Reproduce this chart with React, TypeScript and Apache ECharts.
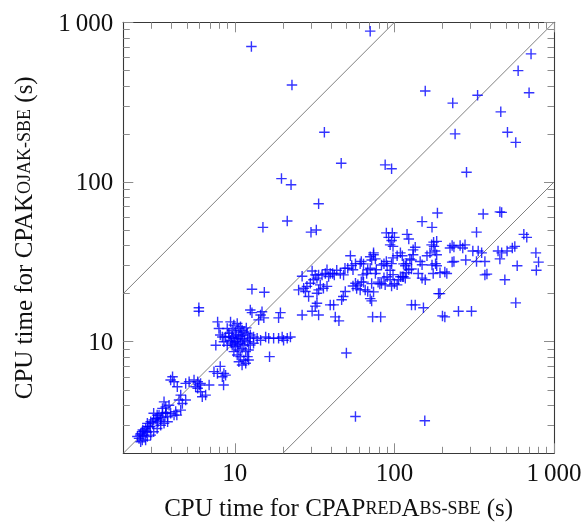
import React, { useEffect, useRef } from "react";
import * as echarts from "echarts";

// ---- axis ticks ----
const majorTicks = [10, 100, 1000];
const minorTicks = [3, 4, 5, 6, 7, 8, 9, 20, 30, 40, 50, 60, 70, 80, 90, 200, 300, 400, 500, 600, 700, 800, 900];
const axisMin = 2;
const axisMax = 1000;

// ---- reference diagonals (y = x, y = 10x, y = x/10) ----
const diagonalEqual = [[2, 2], [1000, 1000]];
const diagonalTenSlower = [[2, 20], [100, 1000]];
const diagonalTenFaster = [[20, 2], [1000, 100]];

// ---- scatter data: [CPAPredAbs-sbe time, CPAKojak-sbe time] ----
const sparsePoints = [
  [12.7, 705], [22.8, 405], [36.4, 205], [46.4, 131], [19.6, 105], [22.5, 96], [33.5, 73], [21.3, 57], [15.0, 52], [30, 48.5], [32.4, 50],
  [70.5, 880], [718, 634], [596, 498], [698, 362], [156, 371], [232, 312], [332, 349], [464, 275], [240, 200], [511, 205], [576, 177],
  [87.5, 128], [96, 121], [283, 115], [186, 64], [149, 56.5], [172, 52], [360, 63], [458, 65], [470, 64.5], [327, 48.5], [647, 47], [675, 45],
  [50, 8.5], [57, 3.4], [155, 3.2],
];

const bandRight = [
  [100, 45], [120, 47], [123, 44], [176, 42], [184, 42.5], [171, 40.4], [177, 39.5], [135, 39],
  [230, 40], [223, 38.6], [236, 39.2], [268, 38.6], [277, 40.4], [258, 40],
  [310, 37], [335, 37], [352, 36], [369, 31.8], [446, 37], [470, 36], [458, 33], [508, 37], [548, 38.6], [568, 39.5],
  [588, 29.9], [492, 24.4], [770, 36], [800, 31.5], [775, 28], [576, 17.5], [369, 26.2], [380, 26.5], [327, 31.8],
  [230, 31.5], [236, 31.8], [280, 32.5], [304, 15.5], [252, 15.5], [207, 14.3], [200, 14.5], [193, 20], [189, 20],
  [152, 16.3], [135, 17], [128, 17], [213, 26.7], [207, 27.3], [175, 26.7], [184, 29.9], [181, 30.8], [167, 36],
  [180, 37], [184, 35], [160, 34.5], [145, 31.8], [149, 30.3], [141, 26.7], [156, 24.4], [131, 37.6], [131, 35],
  [125, 33], [128, 32.5], [119, 30.8], [117, 29.9], [123, 28.2], [114, 25.5], [117, 25],
  [109, 36], [112, 34.5], [104, 34.5], [106, 24.4], [112, 25.5], [104, 22.7],
  [114, 30.7], [128, 28.5], [172, 30.2], [193, 27], [109, 25.5], [119, 27], [149, 25],
];

const bandMiddle = [
  [89, 48], [97, 48], [92, 45], [96, 43], [94, 40.4], [98, 39.5],
  [98, 33.5], [96, 30.8], [90, 29.9], [89, 31.8], [86, 30.8],
  [94, 28], [90, 25.5], [94, 24.4], [87.5, 22.7], [96, 22.3],
  [81, 23], [76, 26.7], [77, 28.2], [70.5, 28.8], [72, 32.5], [74, 35], [74, 36], [68, 28.2], [67, 26.7], [63.5, 26.2],
  [62, 23.7], [59, 22.7], [57, 23.2], [55, 22.3], [58, 21.5], [61, 21.1], [65.6, 21.1], [68, 20.6], [70.5, 18.6], [72, 18],
  [73, 14.3], [82, 14.3],
  [53, 34.5], [54, 30], [51, 28.8], [55, 28.2], [57, 30.8], [62, 31.8], [61, 30.8],
  [49, 28.8], [48, 26.2], [45.8, 26.7], [43.5, 28], [41, 26.7], [42, 26.2],
  [49.2, 20.6], [47.8, 19.2], [46.7, 18.3], [41.6, 17], [42.6, 14.3], [44.9, 13.5],
  [70.5, 34], [76, 33], [64, 30.7], [83, 30.2], [86, 25.1], [98, 26.3], [64, 23.6], [72, 23.1], [79, 23.6], [83, 23.1], [100, 23.1], [74, 20.5],
];

const bandLeft = [
  [26.4, 25.7], [30.5, 27.7], [31.9, 26.2], [31.1, 24.4], [29.7, 23.2], [28.3, 22.2], [27.0, 21.6], [25.1, 21.1], [27.7, 20.6],
  [29.0, 19.2], [32.7, 25.0], [33.5, 26.2], [35.2, 26.2], [37.8, 28.2], [36.9, 26.7], [39.6, 26.7], [38.7, 25.6],
  [34.3, 22.7], [33.5, 21.1], [32.7, 20.1], [35.9, 21.6], [37.8, 22.2],
  [32.7, 17.4], [31.9, 16.7], [30.5, 15.5], [33.5, 14.7], [26.4, 14.7], [39.6, 17],
  [19.3, 15.2], [18.8, 14.1], [21.3, 10.5], [20.2, 10.2], [22.3, 10.7], [16.5, 8.06],
  [12.8, 21.3], [15.3, 20.4],
];

const clusterPoints = [
  [5.95, 16.3], [5.95, 15.5],
  [12.5, 15.8], [12.8, 15.2], [14.8, 15.4], [14.5, 14.7], [15.2, 14.1], [14.1, 13.7],
  [7.8, 13.3], [7.95, 12.1], [8.1, 11], [8.35, 10.7], [7.6, 9.5],
  [9.4, 13.3], [9.86, 12.7], [10.35, 13.0], [10.85, 12.4], [9.63, 11.8], [10.1, 11.5], [10.6, 12.1], [11.1, 11.8],
  [8.96, 12.1], [9.17, 11.3], [8.75, 10.7], [8.54, 10.0], [8.96, 9.5], [9.4, 10.2], [9.63, 9.5],
  [11.4, 11.5], [12.0, 11.3], [12.5, 11.0], [13.1, 10.7], [13.8, 10.5], [14.5, 10.2], [15.6, 10.7], [16.3, 10.5],
  [17.5, 10.5], [18.8, 10.5], [19.8, 10.7],
  [9.86, 10.5], [10.35, 10.0], [10.85, 9.77], [11.4, 9.53], [10.1, 9.3], [10.6, 8.87], [11.1, 9.08], [11.7, 8.66],
  [9.86, 8.66], [10.35, 8.25], [12.0, 10], [12.5, 9.53], [13.1, 9.77], [12.2, 8.87],
  [10.85, 8.06], [11.4, 7.68], [10.6, 7.49], [11.1, 7.15], [11.7, 7.32], [12.0, 8.06], [12.2, 7.68],
  [10, 10], [10.5, 10.5], [11, 11], [9.5, 9.8], [10.2, 11], [11.5, 10.2], [12.3, 10.5], [10.8, 10.8], [9.2, 10.8],
  [11.8, 12.2], [10.4, 9.6], [9.6, 10.6], [11.2, 10.4],
  [7.4, 6.49], [7.78, 6.33], [8.54, 6.33], [8.75, 6.17], [8.35, 6.03], [8.1, 7.0], [8.5, 5.35],
];

const lowerPoints = [
  [4.07, 6.03], [4.16, 5.61], [3.96, 5.75], [4.36, 5.22],
  [4.92, 5.48], [5.17, 5.61], [5.55, 5.75], [5.85, 5.61], [5.99, 5.35], [5.68, 5.22], [6.1, 5.48],
  [5.85, 5.11], [6.1, 4.86], [6.56, 4.63], [6.25, 4.52], [6.9, 5.35],
  [4.58, 4.63], [4.47, 4.31], [4.92, 4.31], [4.69, 4.1],
  [3.6, 4.2], [3.69, 3.9], [3.87, 4.0], [3.52, 3.82],
  [3.96, 3.56], [4.16, 3.47], [4.26, 3.65], [3.79, 3.39], [3.69, 3.56], [3.52, 3.56], [3.35, 3.47], [3.26, 3.31],
  [3.43, 3.23], [3.1, 3.23], [2.97, 3.15], [2.83, 3.08], [2.9, 2.93], [2.76, 2.86], [2.63, 2.73], [2.57, 2.65],
  [2.69, 2.6], [2.83, 2.55], [2.97, 2.6], [3.1, 2.73], [3.26, 2.86], [3.43, 3.0], [3.6, 3.08], [3.79, 3.15],
  [2.51, 2.48], [2.63, 2.42], [2.57, 2.36], [2.76, 2.42],
  [2.45, 2.55], [2.55, 2.6], [2.7, 2.75], [2.8, 2.7], [2.95, 2.95], [3.05, 3.1], [3.2, 3.3], [3.3, 3.15],
  [3.45, 3.35], [3.7, 3.6], [2.65, 2.8], [2.85, 2.95],
  [4.33, 3.47], [4.58, 3.73], [3.1, 3.56], [3.26, 3.47],
];

const xTitle = "CPU time for CPAP{sc|RED}A{sc|BS-SBE} (s)";
const yTitle = "CPU time for CPAK{sc|OJAK-SBE} (s)";

const FONT = '"Liberation Serif", "DejaVu Serif", serif';

function formatTick(v: number) {
  return v === 1000 ? "1\u2009000" : String(v);
}

function makeAxis(position: string, tickValues: number[], tickLen: number, showLine: boolean, showLabels: boolean, extra: any = {}) {
  return {
    type: "log",
    logBase: 10,
    min: axisMin,
    max: axisMax,
    position,
    axisLine: { show: showLine, onZero: false, lineStyle: { color: "#383838", width: 1.1 } },
    axisTick: {
      show: true,
      inside: true,
      length: tickLen,
      customValues: tickValues,
      lineStyle: { color: "#8c8c8c", width: 1 },
    },
    axisLabel: {
      show: showLabels,
      customValues: majorTicks,
      formatter: formatTick,
      fontFamily: FONT,
      fontSize: 25,
      color: "#111",
      margin: position === "bottom" ? 7 : 10,
    },
    splitLine: { show: false },
    minorTick: { show: false },
    minorSplitLine: { show: false },
    ...extra,
  };
}

export default function App() {
  const ref = useRef<HTMLDivElement>(null);
  useEffect(() => {
    if (!ref.current) return;
    const chart = echarts.init(ref.current, null, { renderer: "svg" });
    const nameStyle = {
      fontFamily: FONT,
      fontSize: 25,
      color: "#111",
      rich: { sc: { fontFamily: FONT, fontSize: 18, color: "#111" } },
    };
    const allPoints = [...sparsePoints, ...bandRight, ...bandMiddle, ...bandLeft, ...clusterPoints, ...lowerPoints];
    const lineStyle = { color: "#808080", width: 1 };
    chart.setOption({
      animation: false,
      grid: { left: 123.3, right: 30, top: 22.3, bottom: 69.7, containLabel: false, outerBoundsMode: "none" },
      xAxis: [
        makeAxis("bottom", majorTicks, 10, true, true, {
          name: xTitle,
          nameLocation: "middle",
          nameGap: 42,
          nameTextStyle: nameStyle,
        }),
        makeAxis("bottom", minorTicks, 6.5, false, false),
        makeAxis("top", majorTicks, 10, true, false),
        makeAxis("top", minorTicks, 6.5, false, false),
      ],
      yAxis: [
        makeAxis("left", majorTicks, 10, true, true, {
          name: yTitle,
          nameLocation: "middle",
          nameGap: 87,
          nameTextStyle: nameStyle,
        }),
        makeAxis("left", minorTicks, 6.5, false, false),
        makeAxis("right", majorTicks, 10, true, false),
        makeAxis("right", minorTicks, 6.5, false, false),
      ],
      series: [
        { type: "line", data: diagonalEqual, showSymbol: false, symbol: "none", lineStyle, silent: true, z: 1 },
        { type: "line", data: diagonalTenSlower, showSymbol: false, symbol: "none", lineStyle, silent: true, z: 1 },
        { type: "line", data: diagonalTenFaster, showSymbol: false, symbol: "none", lineStyle, silent: true, z: 1 },
        {
          type: "scatter",
          data: allPoints,
          symbol: "path://M5,0 L5,10 M0,5 L10,5",
          symbolSize: 10.5,
          itemStyle: { color: "#0000ff", borderColor: "#0000ff", borderWidth: 1.4 },
          z: 2,
        },
      ],
    });
    return () => chart.dispose();
  }, []);
  return <div ref={ref} style={{ position: "fixed", left: 0, top: 0, width: 584, height: 523 }} />;
}
